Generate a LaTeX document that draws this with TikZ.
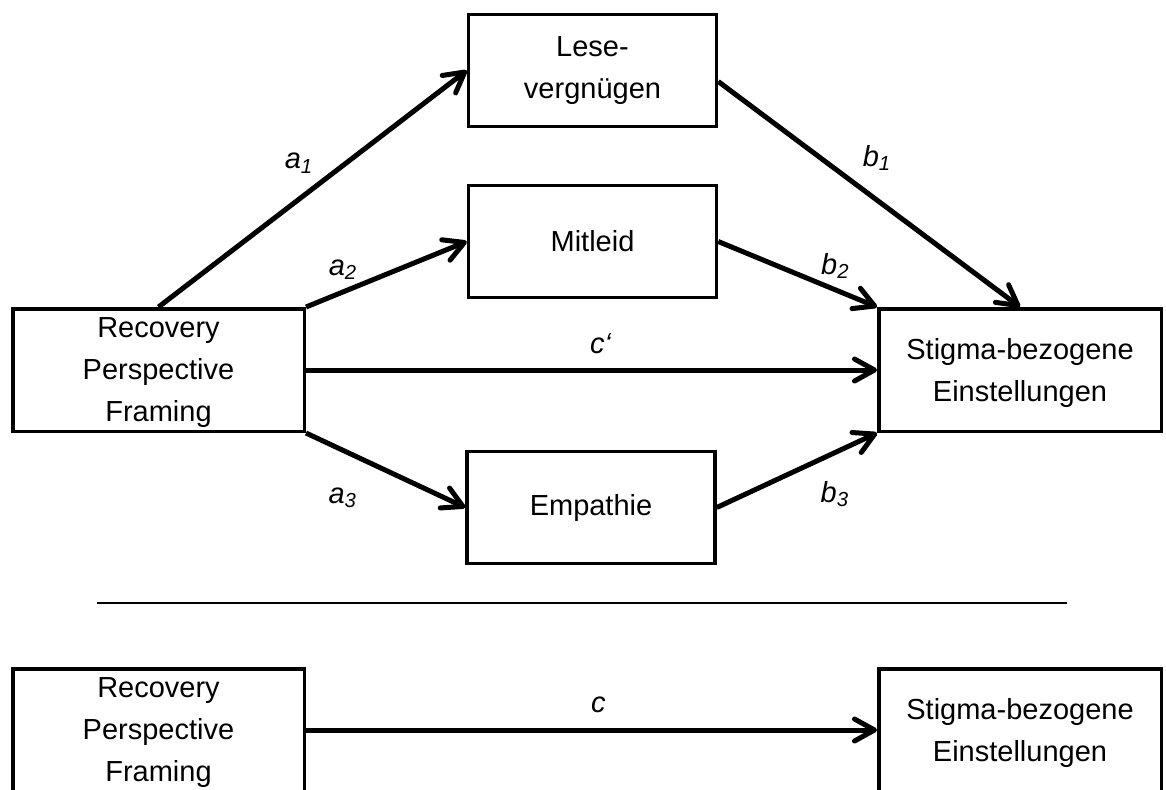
\documentclass[tikz,border=0pt]{standalone}
\usepackage{fontspec}
\setmainfont{Liberation Sans}
\usetikzlibrary{arrows.meta}

\begin{document}
\begin{tikzpicture}[
x=0.5pt,
y=-0.5pt,
box/.style={
  draw,
  line width=1.75pt,
  align=center,
  inner sep=0pt,
  font=\fontsize{14.5}{21}\selectfont
  },
medbox/.style={
  box,
  minimum width=124pt,
  minimum height=56pt
  },
endbox/.style={
  box,
  text depth=0pt,
  minimum height=61.25pt
  },
link/.style={
  ->,
  line width=2.5pt
  },
lbl/.style={
  inner sep=0pt,
  font=\fontsize{14.5}{17}\selectfont\itshape
  },
>={Straight Barb[length=10pt,width=11pt,round]}
]
\clip (0,0) rectangle (1166,789);

% upper model
\node[endbox, minimum width=145.75pt] (rec) at (158.5,370) {Recovery\\Perspective\\Framing};
\node[endbox, minimum width=141.25pt] (stig) at (1020,370) {Stigma-bezogene\\Einstellungen};
\node[medbox] (lese) at (592.5,70.5) {Lese-\\vergnügen};
\node[medbox] (mit) at (592.5,241.5) {Mitleid};
\node[medbox] (emp) at (591,507.5) {Empathie};

\draw[link] (rec.north) -- node[lbl, pos=0.456, yshift=18pt] {a\textsubscript{1}} (lese.west);
\draw[link] (rec.north east) -- node[lbl, pos=0.23, yshift=11pt] {a\textsubscript{2}} (mit.west);
\draw[link] (rec.east) -- node[lbl, pos=0.516, yshift=13pt] {c‘} (stig.west);
\draw[link] (rec.south east) -- node[lbl, pos=0.231, yshift=-23.7pt] {a\textsubscript{3}} (emp.west);
\draw[link] ([yshift=-5.5pt]lese.east) -- node[lbl, pos=0.526, yshift=21pt] {b\textsubscript{1}} (stig.north);
\draw[link] (mit.east) -- node[lbl, pos=0.7375, yshift=12pt] {b\textsubscript{2}} (stig.north west);
\draw[link] (emp.east) -- node[lbl, pos=0.7375, yshift=-20.6pt] {b\textsubscript{3}} (stig.south west);

\draw[line width=1.2pt] (97,603) -- (1067,603);

% total effect
\node[endbox, minimum width=145.75pt] (rec2) at (158.5,730) {Recovery\\Perspective\\Framing};
\node[endbox, minimum width=141.25pt] (stig2) at (1020,730) {Stigma-bezogene\\Einstellungen};
\draw[link] (rec2.east) -- node[lbl, pos=0.512, yshift=12.5pt] {c} (stig2.west);

\end{tikzpicture}
\end{document}
